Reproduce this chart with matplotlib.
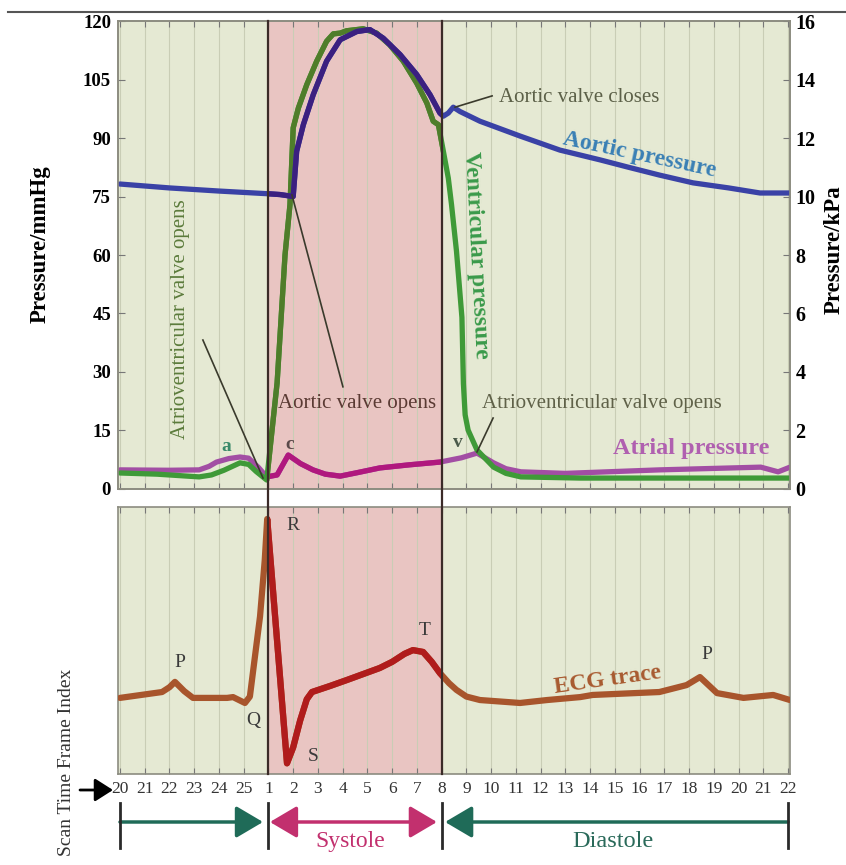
import matplotlib
matplotlib.use('Agg')
import matplotlib.pyplot as plt
from matplotlib.lines import Line2D
from matplotlib.patches import FancyArrowPatch
import matplotlib.transforms as mtransforms

plt.rcParams['font.family'] = ['Liberation Serif', 'DejaVu Serif']

# scan time frame labels (position 0..27 on the x axis)
frames = list(range(20, 26)) + list(range(1, 23))

# pressures in mmHg, x = frame position
aortic_x = [0, 2, 4, 6, 6.47, 7.0, 7.14, 7.41, 7.81, 8.35, 8.9, 9.57, 10.1, 10.64, 11.32,
            11.99, 12.53, 12.93, 13.07, 13.27, 13.47, 13.74, 14.55, 16.17, 17.78, 19.4,
            20.49, 21.8, 23.16, 24.6, 25.87, 27.08]
aortic_y = [78.2, 77.2, 76.4, 75.7, 75.5, 75.0, 86.6, 93.4, 101.1, 109.7, 115.2, 117.3,
            117.8, 115.6, 111.4, 106.3, 101.1, 96.4, 95.6, 96.4, 97.9, 96.8, 94.3, 90.5,
            86.9, 84.4, 82.6, 80.5, 78.5, 77.2, 75.9, 75.9]

vent_x = [0, 1.5, 3.2, 3.7, 4.2, 4.85, 5.2, 5.5, 5.93, 6.35, 6.67, 6.87, 7.0, 7.21, 7.55,
          7.95, 8.35, 8.62, 8.9, 9.16, 9.83, 10.37, 10.9, 11.45, 11.99, 12.4, 12.66, 12.87,
          13.07, 13.27, 13.4, 13.6, 13.82, 13.88, 13.95, 14.07, 14.43, 15.1, 15.6, 16.2,
          18.6, 27.08]
vent_y = [4.1, 3.8, 3.1, 3.6, 4.8, 6.7, 6.3, 4.5, 2.3, 27.2, 60, 72.9, 92.6, 97.7, 103.7,
          109.7, 114.8, 116.7, 116.9, 117.5, 118.0, 116.9, 113.9, 109.7, 104.1, 99.0, 94.3,
          93.4, 86.6, 79.7, 72.9, 61, 44, 27, 19, 15.1, 10, 5.6, 4.0, 3.1,
          2.8, 2.8]

atrial_x = [0, 2, 3.2, 3.6, 3.9, 4.4, 4.85, 5.2, 5.6, 5.93, 6.35, 6.8, 7.3, 7.8, 8.3, 8.9,
            9.6, 10.5, 11.7, 12.93, 13.8, 14.43, 15.1, 15.6, 16.2, 18.0, 21.8, 25.9, 26.6,
            27.08]
atrial_y = [4.9, 4.8, 4.9, 5.8, 6.9, 7.8, 8.2, 7.9, 5.5, 3.1, 3.6, 8.7, 6.5, 4.9, 3.8, 3.3,
            4.2, 5.4, 6.2, 6.9, 8.0, 9.2, 6.7, 5.2, 4.4, 4.0, 4.9, 5.6, 4.4,
            5.6]

# ECG trace (relative amplitude)
ecg_x = [0, 1.7, 2.0, 2.22, 2.6, 2.95, 4.33, 4.57, 5.05, 5.25, 5.4, 5.66, 5.85, 5.95, 6.75,
         7.0, 7.28, 7.55, 7.76, 8.5, 9.17, 10.5, 11.0, 11.5, 11.84, 12.25, 12.6, 12.93,
         13.3, 13.6, 14.0, 14.55, 16.17, 17.26, 18.6, 19.1, 21.8, 22.9, 23.44, 24.13,
         25.2, 26.4, 27.08]
ecg_y = [0.285, 0.307, 0.325, 0.345, 0.31, 0.285, 0.285, 0.288, 0.266, 0.29, 0.40, 0.59,
         0.80, 0.955, 0.04, 0.10, 0.20, 0.28, 0.307, 0.33, 0.352, 0.397, 0.42, 0.45, 0.464,
         0.457, 0.42, 0.378, 0.34, 0.315, 0.29, 0.277, 0.266, 0.277, 0.288, 0.296, 0.307,
         0.333, 0.363, 0.303, 0.285, 0.296, 0.277]

green_bg = '#e5e9d3'
pink_bg = '#e9c5c2'

fig = plt.figure(figsize=(8.46, 8.65), dpi=100)
ax1 = fig.add_axes([0.1395, 0.4347, 0.7943, 0.5410])
ax2 = fig.add_axes([0.1395, 0.1052, 0.7943, 0.3087])

spans = []
for ax in (ax1, ax2):
    ax.set_facecolor(green_bg)
    spans.append(ax.axvspan(6, 13, color=pink_bg, zorder=0, lw=0))
    ax.set_xlim(-0.08, 27.08)
    ax.set_xticks(range(len(frames)))
    ax.grid(axis='x', color='#c9cdb5', lw=0.8)
    ax.tick_params(axis='x', direction='in', top=True, length=4, color='#777777')
    for s in ax.spines.values():
        s.set_color('#8c8c80')
        s.set_linewidth(1.2)


def trace(ax, x, y, c_out, c_in, lw, clip):
    ax.plot(x, y, color=c_out, lw=lw, solid_joinstyle='round', solid_capstyle='round', zorder=3)
    l, = ax.plot(x, y, color=c_in, lw=lw, solid_joinstyle='round', zorder=3)
    l.set_clip_path(clip)


trace(ax1, atrial_x, atrial_y, '#a24ea4', '#b0187e', 3.8, spans[0])
trace(ax1, vent_x, vent_y, '#3f9a38', '#4f7d2a', 3.8, spans[0])
trace(ax1, aortic_x, aortic_y, '#3a42a6', '#3b2080', 3.8, spans[0])
trace(ax2, ecg_x, ecg_y, '#a8552c', '#b01c1c', 4.5, spans[1])

ax1.set_ylim(0, 120)
ax1.set_yticks(range(0, 121, 15))
ax1.tick_params(axis='y', direction='in', length=5, pad=5, labelsize=13.5, color='#777777')
for t in ax1.get_yticklabels():
    t.set_fontweight('bold')
ax1.tick_params(axis='x', labelbottom=False)

ax1r = ax1.twinx()
ax1r.set_ylim(0, 120 / 7.5)
ax1r.set_yticks(range(0, 17, 2))
ax1r.tick_params(axis='y', direction='in', length=5, pad=4, labelsize=14.5, color='#777777')
for t in ax1r.get_yticklabels():
    t.set_fontweight('bold')
for s in ax1r.spines.values():
    s.set_color('#8c8c80')
    s.set_linewidth(1.2)

ax1.set_ylabel('Pressure/mmHg', fontsize=16.5, fontweight='bold', va='center')
ax1.yaxis.set_label_coords(-0.116, 0.523)
ax1r.set_ylabel('Pressure/kPa', fontsize=16.5, fontweight='bold', rotation=90, va='center')
ax1r.yaxis.set_label_coords(1.0655, 0.511)

ax2.set_ylim(0, 1)
ax2.set_yticks([])
ax2.set_xticklabels(frames, fontsize=12.5, color='#333333')
ax2.tick_params(axis='x', pad=5)
ax2.set_ylabel('Scan Time Frame Index', fontsize=14, color='#333333', va='center')
ax2.yaxis.set_label_coords(-0.076, 0.045)

# annotations on the pressure panel
ann = '#3a3a2c'
ax1.text(2.43, 43.6, 'Atrioventricular valve opens', rotation=90, fontsize=15,
         color='#5b7b3b', ha='center', va='center')
ax1.plot([3.35, 5.78], [38.2, 2.8], color=ann, lw=1.2, zorder=4)
ax1.text(9.58, 21.8, 'Aortic valve opens', fontsize=15, color='#5a3a33', ha='center', va='center')
ax1.plot([9.01, 6.95], [26.2, 75.4], color=ann, lw=1.2, zorder=4)
ax1.text(15.3, 100.5, 'Aortic valve closes', fontsize=15, color='#5c6048', ha='left', va='center')
ax1.plot([15.04, 13.54], [100.8, 97.9], color=ann, lw=1.2, zorder=4)
ax1.text(19.48, 22.0, 'Atrioventricular valve opens', fontsize=15, color='#5f6148',
         ha='center', va='center')
ax1.plot([15.08, 14.43], [18.2, 9.5], color=ann, lw=1.2, zorder=4)

ax1.text(4.28, 10.8, 'a', fontsize=14, fontweight='bold', color='#3a8a6a', ha='center', va='center')
ax1.text(6.87, 11.5, 'c', fontsize=14, fontweight='bold', color='#5a4a4a', ha='center', va='center')
ax1.text(13.66, 11.8, 'v', fontsize=14, fontweight='bold', color='#4a5a4a', ha='center', va='center')

ax1.text(21.0, 85.6, 'Aortic pressure', rotation=-12, fontsize=17, fontweight='bold',
         color='#3a80b5', ha='center', va='center', rotation_mode='anchor')
ax1.text(14.39, 60.0, 'Ventricular pressure', rotation=-87, fontsize=17, fontweight='bold',
         color='#3a9a4a', ha='center', va='center', rotation_mode='anchor')
ax1.text(23.1, 10.3, 'Atrial pressure', fontsize=17.5, fontweight='bold', color='#b060b0',
         ha='center', va='center')

# ECG labels
ax2.text(19.7, 0.35, 'ECG trace', rotation=8, fontsize=17, fontweight='bold', color='#a85a30',
         ha='center', va='center', rotation_mode='anchor')
for lab, lx, ly in [('P', 2.43, 0.419), ('Q', 5.38, 0.202), ('R', 6.99, 0.929),
                    ('S', 7.8, 0.067), ('T', 12.33, 0.539), ('P', 23.73, 0.446)]:
    ax2.text(lx, ly, lab, fontsize=14, color='#3a3a3a', ha='center', va='center')

# valve lines through both panels
trans = mtransforms.blended_transform_factory(ax1.transData, fig.transFigure)
for xv in (6, 13):
    fig.add_artist(Line2D([xv, xv], [0.1052, 0.9757], transform=trans, color='#3b2b28', lw=1.6))

# systole / diastole arrows under the axis
yA = 1 - 822 / 865
teal = '#1f6b58'
mag = '#c2306e'
cs = ('data', 'figure fraction')
for xv in (0, 6, 13, 27):
    fig.add_artist(Line2D([xv, xv], [0.0197, 0.0717], transform=trans, color='#2a2a2a', lw=2))
ax2.annotate('', xy=(5.78, yA), xytext=(0, yA), xycoords=cs, textcoords=cs,
             arrowprops=dict(arrowstyle='-|>,head_length=0.83,head_width=0.49', color=teal,
                             lw=2.5, shrinkA=0, shrinkB=0, mutation_scale=20))
ax2.annotate('', xy=(12.81, yA), xytext=(6.06, yA), xycoords=cs, textcoords=cs,
             arrowprops=dict(arrowstyle='<|-|>,head_length=0.83,head_width=0.49', color=mag,
                             lw=2.5, shrinkA=0, shrinkB=0, mutation_scale=20))
ax2.annotate('', xy=(13.14, yA), xytext=(27, yA), xycoords=cs, textcoords=cs,
             arrowprops=dict(arrowstyle='-|>,head_length=0.83,head_width=0.49', color=teal,
                             lw=2.5, shrinkA=0, shrinkB=0, mutation_scale=20))
ax2.annotate('Systole', xy=(9.3, 0.0277), xycoords=cs, fontsize=17, color=mag,
             ha='center', va='center')
ax2.annotate('Diastole', xy=(19.93, 0.0266), xycoords=cs, fontsize=17.5, color='#2a6a5a',
             ha='center', va='center')

# small arrow pointing at the frame index row
fig.add_artist(FancyArrowPatch((80 / 846, 0.0867), (113 / 846, 0.0867),
               transform=fig.transFigure, arrowstyle='-|>,head_length=0.55,head_width=0.35',
               mutation_scale=20, color='black', lw=2, shrinkA=0, shrinkB=0))

# scan border line at the top
fig.add_artist(Line2D([0.0095, 1.0], [0.9861, 0.9861], color='#555555', lw=1.5))

fig.savefig('out.png', dpi=100)
